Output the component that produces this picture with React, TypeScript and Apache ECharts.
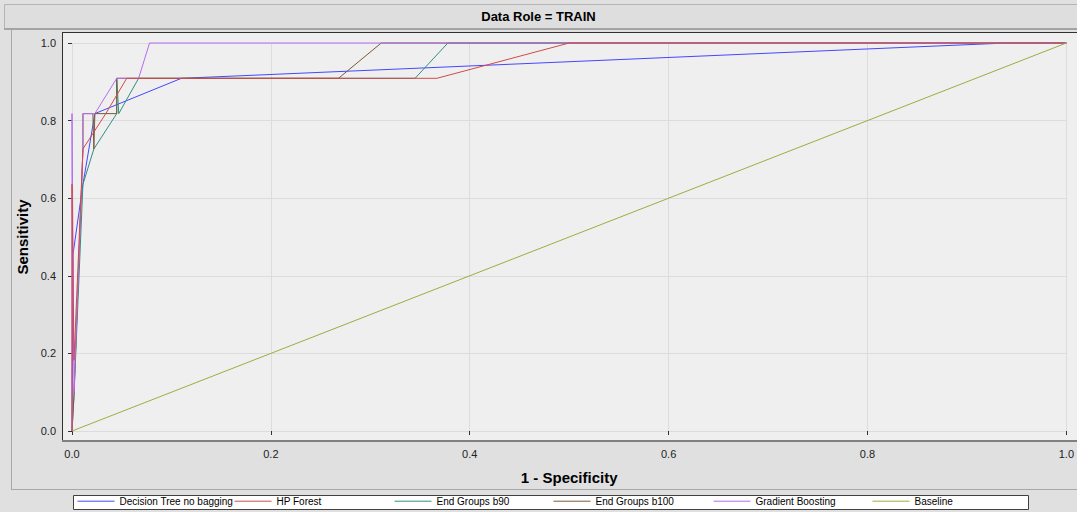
import React, { useEffect, useRef } from "react";
import * as echarts from "echarts";

// ROC curves: [1 - specificity, sensitivity]
const seriesNames = [
  "Decision Tree no bagging",
  "HP Forest",
  "End Groups b90",
  "End Groups b100",
  "Gradient Boosting",
  "Baseline",
];

const seriesColors = ["#4646ff", "#d04a4a", "#2f8f80", "#7a5a36", "#b46cf0", "#a2aa3e"];
// stacking order of the curves (higher is drawn on top)
const seriesZ = [2, 6, 3, 4, 5, 7];

const decisionTree = [
  [0, 0], [0.001, 0.455], [0.011, 0.636], [0.023, 0.818], [0.11, 0.909], [0.94, 1.0], [1, 1],
];
const hpForest = [
  [0, 0], [0, 0.636], [0.002, 0.182], [0.011, 0.727], [0.034, 0.818], [0.055, 0.909],
  [0.367, 0.909], [0.5, 1.0], [1, 1],
];
const endGroupsB90 = [
  [0, 0], [0.002, 0.091], [0.011, 0.636], [0.022, 0.727], [0.045, 0.818], [0.045, 0.909],
  [0.047, 0.818], [0.067, 0.909], [0.345, 0.909], [0.378, 1.0], [1, 1],
];
const endGroupsB100 = [
  [0, 0], [0.002, 0.091], [0.011, 0.727], [0.011, 0.818], [0.021, 0.818], [0.022, 0.727],
  [0.023, 0.818], [0.045, 0.818], [0.045, 0.909], [0.268, 0.909], [0.311, 1.0], [1, 1],
];
const gradientBoosting = [
  [0, 0], [0, 0.818], [0.002, 0.1], [0.011, 0.727], [0.011, 0.818], [0.023, 0.818],
  [0.045, 0.909], [0.067, 0.909], [0.078, 1.0], [1, 1],
];
const baseline = [
  [0, 0], [1, 1],
];

const seriesData = [decisionTree, hpForest, endGroupsB90, endGroupsB100, gradientBoosting, baseline];

const axisTicks = { min: 0, max: 1, interval: 0.2 };
const legendLefts = [77, 234, 394, 553, 713, 872];

const FONT = "Arial, 'Liberation Sans', sans-serif";

export default function App() {
  const ref = useRef<HTMLDivElement>(null);

  useEffect(() => {
    if (!ref.current) return;
    const chart = echarts.init(ref.current, null, { renderer: "svg" });

    const tickLabel = {
      fontSize: 11,
      color: "#222",
      fontFamily: FONT,
      formatter: (v: number) => v.toFixed(1),
    };

    chart.setOption({
      animation: false,
      backgroundColor: "#e0e0e0",
      title: {
        text: "Data Role = TRAIN",
        left: "center",
        top: 10,
        padding: 0,
        textStyle: { fontSize: 13, fontWeight: "bold", color: "#000", fontFamily: FONT },
      },
      graphic: [
        // title band
        { type: "rect", z: -20, shape: { x: 4.5, y: 4.5, width: 1080, height: 24 }, style: { fill: "#dedede", stroke: "#b4b4b4", lineWidth: 1 } },
        { type: "line", z: -19, shape: { x1: 4, y1: 29, x2: 1077, y2: 29 }, style: { stroke: "#a4a4a4", lineWidth: 2 } },
        // panel border
        { type: "line", z: -19, shape: { x1: 11.5, y1: 30, x2: 11.5, y2: 489 }, style: { stroke: "#a8a8a8", lineWidth: 1 } },
        { type: "line", z: -19, shape: { x1: 11, y1: 489.5, x2: 1077, y2: 489.5 }, style: { stroke: "#a8a8a8", lineWidth: 1 } },
        // plot background
        { type: "rect", z: -10, shape: { x: 62, y: 32, width: 1015, height: 408 }, style: { fill: "#efefef" } },
        // plot frame
        { type: "line", z: 10, shape: { x1: 62, y1: 32.5, x2: 1077, y2: 32.5 }, style: { stroke: "#303030", lineWidth: 1 } },
        { type: "line", z: 10, shape: { x1: 62.5, y1: 32, x2: 62.5, y2: 441 }, style: { stroke: "#303030", lineWidth: 1 } },
        { type: "line", z: 10, shape: { x1: 62, y1: 441, x2: 1077, y2: 441 }, style: { stroke: "#808080", lineWidth: 2 } },
        // legend box
        { type: "rect", z: 0, shape: { x: 73.5, y: 495.5, width: 955, height: 14 }, style: { fill: "#ffffff", stroke: "#404040", lineWidth: 1 } },
      ],
      legend: seriesNames.map((name, i) => ({
        data: [name],
        left: legendLefts[i],
        top: 496,
        padding: 0,
        itemWidth: 37,
        itemHeight: 13,
        itemGap: 0,
        selectedMode: false,
        itemStyle: { opacity: 0 },
        lineStyle: { width: 1 },
        textStyle: { fontSize: 10, color: "#000", fontFamily: FONT },
      })),
      grid: { left: 72, right: 7, top: 43, bottom: 81, containLabel: false },
      xAxis: {
        type: "value",
        ...axisTicks,
        offset: 9,
        axisLine: { show: false },
        axisTick: { show: true, length: 4, lineStyle: { color: "#333" } },
        axisLabel: { ...tickLabel, margin: 8 },
        splitLine: { show: true, lineStyle: { color: "#dcdcdc", width: 1 } },
        name: "1 - Specificity",
        nameLocation: "middle",
        nameGap: 30,
        nameTextStyle: { fontSize: 15, fontWeight: "bold", color: "#000", fontFamily: FONT },
      },
      yAxis: {
        type: "value",
        ...axisTicks,
        offset: 10,
        axisLine: { show: false },
        axisTick: { show: true, length: 4, lineStyle: { color: "#333" } },
        axisLabel: { ...tickLabel, margin: 6 },
        splitLine: { show: true, lineStyle: { color: "#dcdcdc", width: 1 } },
        name: "Sensitivity",
        nameLocation: "middle",
        nameGap: 28,
        nameTextStyle: { fontSize: 15, fontWeight: "bold", color: "#000", fontFamily: FONT },
      },
      series: seriesNames.map((name, i) => ({
        name,
        type: "line",
        data: seriesData[i],
        symbol: "none",
        clip: false,
        z: seriesZ[i],
        color: seriesColors[i],
        lineStyle: { width: 1, color: seriesColors[i] },
      })),
    });

    return () => chart.dispose();
  }, []);

  return (
    <div
      ref={ref}
      style={{ position: "fixed", left: 0, top: 0, width: 1077, height: 512 }}
    />
  );
}
